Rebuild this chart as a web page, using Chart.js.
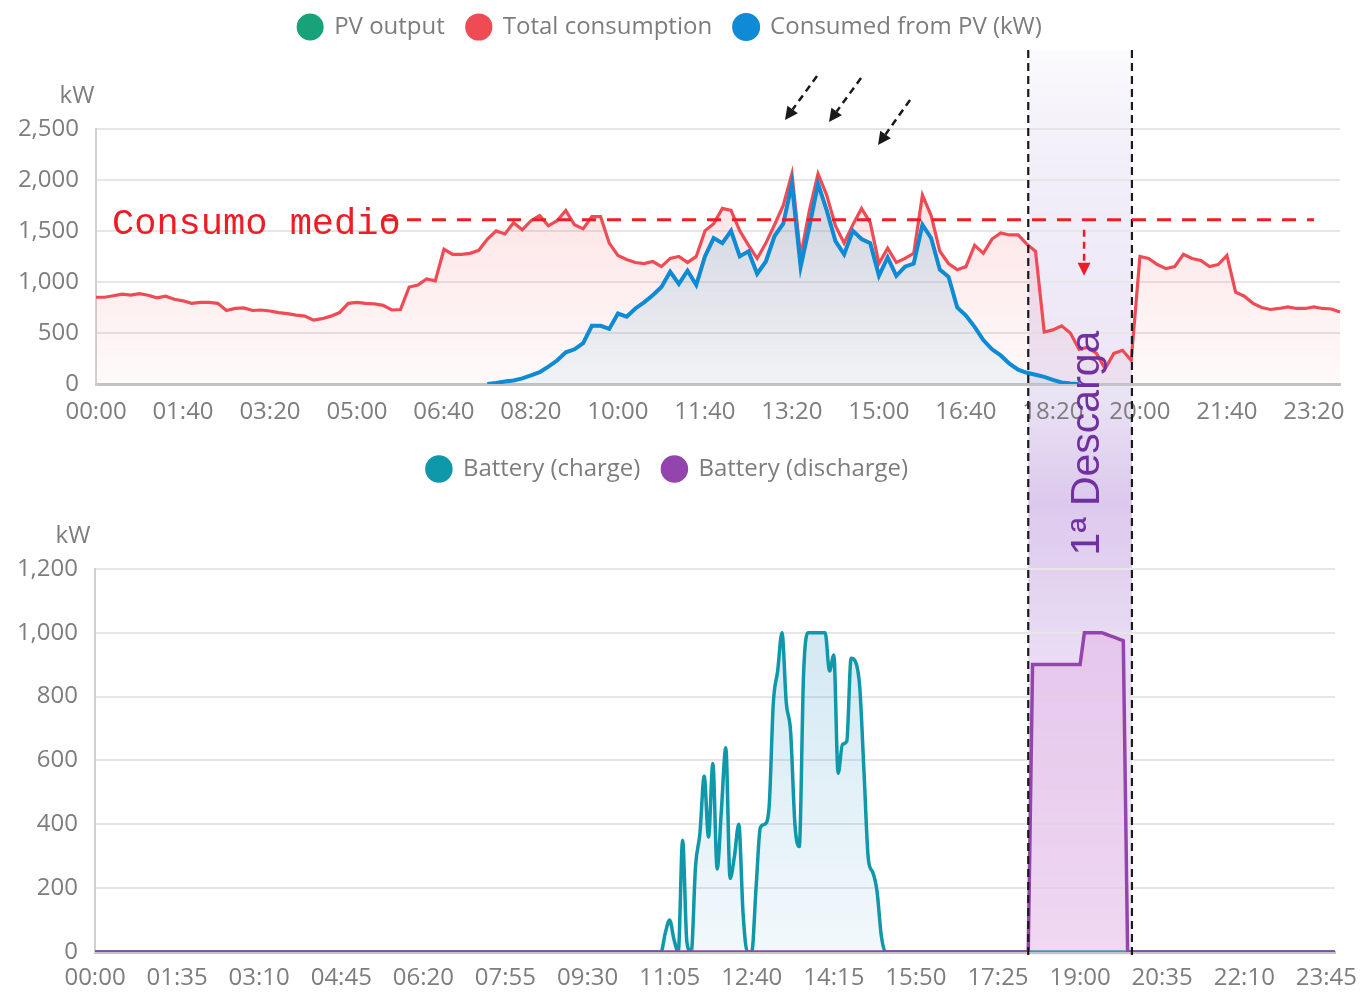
<!DOCTYPE html>
<html>
<head>
<meta charset="utf-8">
<script src="https://cdn.jsdelivr.net/npm/chart.js@4.4.1/dist/chart.umd.min.js"></script>
<style>
    html, body { margin: 0; padding: 0; background: #fff; }
    #stage { position: relative; width: 1363px; height: 992px; overflow: hidden; }
    #stage canvas { position: absolute; left: 0; }
    #band { top: 0; z-index: 0; }
    #topChart { top: 0; z-index: 1; }
    #bottomChart { top: 440px; z-index: 1; }
    #notes { top: 0; z-index: 2; pointer-events: none; }
</style>
</head>
<body>
<div id="stage">
    <canvas id="band" width="1363" height="992"></canvas>
    <canvas id="topChart" width="1363" height="440"></canvas>
    <canvas id="bottomChart" width="1363" height="552"></canvas>
    <canvas id="notes" width="1363" height="992"></canvas>
</div>
<script>
// ---- data ----
const topTimes = makeTimes(10);     // 00:00 .. 23:50
const bottomTimes = makeTimes(5);   // 00:00 .. 23:55
const topTickEvery = 10;            // 00:00, 01:40, 03:20 ...
const bottomTickEvery = 19;         // 00:00, 01:35, 03:10 ...

// kW, one value every 10 min
const totalConsumption = [
    850, 850, 865, 880, 870, 885, 870, 845, 860, 830,
    815, 790, 800, 800, 790, 720, 740, 745, 720, 725,
    715, 700, 690, 675, 665, 625, 640, 665, 700, 790,
    800, 790, 785, 770, 725, 730, 950, 970, 1030, 1010,
    1320, 1270, 1270, 1280, 1310, 1420, 1500, 1470, 1580, 1510,
    1600, 1650, 1550, 1600, 1700, 1560, 1520, 1640, 1640, 1380,
    1260, 1220, 1190, 1180, 1200, 1150, 1230, 1250, 1190, 1250,
    1500, 1570, 1720, 1700, 1500, 1360, 1230, 1380, 1560, 1750,
    2060, 1250, 1700, 2060, 1850, 1550, 1380, 1560, 1720, 1580,
    1180, 1330, 1190, 1230, 1280, 1850, 1650, 1300, 1180, 1120,
    1150, 1360, 1280, 1420, 1480, 1460, 1460, 1370, 1300, 510,
    530, 570, 500, 340, 360, 300, 150, 300, 330, 230,
    1250, 1230, 1170, 1130, 1150, 1270, 1230, 1210, 1150, 1170,
    1260, 900, 860, 790, 750, 730, 740, 755, 740, 740,
    755, 740, 735, 705
];

const consumedFromPV = [
    null, null, null, null, null, null, null, null, null, null,
    null, null, null, null, null, null, null, null, null, null,
    null, null, null, null, null, null, null, null, null, null,
    null, null, null, null, null, null, null, null, null, null,
    null, null, null, null, null, 0, 10, 25, 35, 55,
    85, 115, 170, 230, 310, 340, 400, 570, 570, 540,
    690, 660, 740, 800, 870, 950, 1100, 980, 1110, 970,
    1250, 1430, 1380, 1500, 1250, 1300, 1080, 1200, 1450, 1570,
    1960, 1150, 1540, 1960, 1700, 1400, 1270, 1500, 1420, 1380,
    1060, 1240, 1060, 1150, 1180, 1560, 1430, 1120, 1050, 750,
    670, 560, 430, 340, 280, 200, 140, 110, 90, 70,
    40, 15, 5, 0, null, null, null, null, null, null,
    null, null, null, null, null, null, null, null, null, null,
    null, null, null, null, null, null, null, null, null, null,
    null, null, null, null
];

// PV output sits right under the blue line in the picture
const pvOutput = [
    null, null, null, null, null, null, null, null, null, null,
    null, null, null, null, null, null, null, null, null, null,
    null, null, null, null, null, null, null, null, null, null,
    null, null, null, null, null, null, null, null, null, null,
    null, null, null, null, null, 0, 10, 25, 35, 55,
    85, 115, 170, 230, 310, 340, 400, 570, 570, 540,
    690, 660, 740, 800, 870, 950, 1100, 980, 1110, 970,
    1250, 1430, 1380, 1500, 1250, 1300, 1080, 1200, 1450, 1570,
    1960, 1150, 1540, 1960, 1700, 1400, 1270, 1500, 1420, 1380,
    1060, 1240, 1060, 1150, 1180, 1560, 1430, 1120, 1050, 750,
    670, 560, 430, 340, 280, 200, 140, 110, 90, 70,
    40, 15, 5, 0, null, null, null, null, null, null,
    null, null, null, null, null, null, null, null, null, null,
    null, null, null, null, null, null, null, null, null, null,
    null, null, null, null
];

// kW, one value every 5 min, one row per hour
const batteryCharge = [
    0, 0, 0, 0, 0, 0, 0, 0, 0, 0, 0, 0,
    0, 0, 0, 0, 0, 0, 0, 0, 0, 0, 0, 0,
    0, 0, 0, 0, 0, 0, 0, 0, 0, 0, 0, 0,
    0, 0, 0, 0, 0, 0, 0, 0, 0, 0, 0, 0,
    0, 0, 0, 0, 0, 0, 0, 0, 0, 0, 0, 0,
    0, 0, 0, 0, 0, 0, 0, 0, 0, 0, 0, 0,
    0, 0, 0, 0, 0, 0, 0, 0, 0, 0, 0, 0,
    0, 0, 0, 0, 0, 0, 0, 0, 0, 0, 0, 0,
    0, 0, 0, 0, 0, 0, 0, 0, 0, 0, 0, 0,
    0, 0, 0, 0, 0, 0, 0, 0, 0, 0, 0, 0,
    0, 0, 0, 0, 0, 0, 0, 0, 0, 0, 0, 0,
    60, 100, 40, 0, 350, 30, 0, 270, 370, 550, 360, 590,
    260, 450, 640, 230, 300, 400, 120, 0, 0, 200, 390, 400,
    450, 780, 880, 1000, 780, 690, 400, 330, 870, 1000, 1000, 1000,
    1000, 1000, 880, 930, 560, 650, 660, 920, 910, 830, 560, 290,
    250, 190, 50, 0, 0, 0, 0, 0, 0, 0, 0, 0,
    0, 0, 0, 0, 0, 0, 0, 0, 0, 0, 0, 0,
    0, 0, 0, 0, 0, 0, 0, 0, 0, 0, 0, 0,
    0, 0, 0, 0, 0, 0, 0, 0, 0, 0, 0, 0,
    0, 0, 0, 0, 0, 0, 0, 0, 0, 0, 0, 0,
    0, 0, 0, 0, 0, 0, 0, 0, 0, 0, 0, 0,
    0, 0, 0, 0, 0, 0, 0, 0, 0, 0, 0, 0,
    0, 0, 0, 0, 0, 0, 0, 0, 0, 0, 0, 0,
    0, 0, 0, 0, 0, 0, 0, 0, 0, 0, 0, 0
];

const batteryDischarge = [
    0, 0, 0, 0, 0, 0, 0, 0, 0, 0, 0, 0,
    0, 0, 0, 0, 0, 0, 0, 0, 0, 0, 0, 0,
    0, 0, 0, 0, 0, 0, 0, 0, 0, 0, 0, 0,
    0, 0, 0, 0, 0, 0, 0, 0, 0, 0, 0, 0,
    0, 0, 0, 0, 0, 0, 0, 0, 0, 0, 0, 0,
    0, 0, 0, 0, 0, 0, 0, 0, 0, 0, 0, 0,
    0, 0, 0, 0, 0, 0, 0, 0, 0, 0, 0, 0,
    0, 0, 0, 0, 0, 0, 0, 0, 0, 0, 0, 0,
    0, 0, 0, 0, 0, 0, 0, 0, 0, 0, 0, 0,
    0, 0, 0, 0, 0, 0, 0, 0, 0, 0, 0, 0,
    0, 0, 0, 0, 0, 0, 0, 0, 0, 0, 0, 0,
    0, 0, 0, 0, 0, 0, 0, 0, 0, 0, 0, 0,
    0, 0, 0, 0, 0, 0, 0, 0, 0, 0, 0, 0,
    0, 0, 0, 0, 0, 0, 0, 0, 0, 0, 0, 0,
    0, 0, 0, 0, 0, 0, 0, 0, 0, 0, 0, 0,
    0, 0, 0, 0, 0, 0, 0, 0, 0, 0, 0, 0,
    0, 0, 0, 0, 0, 0, 0, 0, 0, 0, 0, 0,
    0, 0, 0, 0, 0, 0, 0, 0, 0, 0, 0, 0,
    0, 900, 900, 900, 900, 900, 900, 900, 900, 900, 900, 900,
    900, 1000, 1000, 1000, 1000, 1000, 995, 990, 985, 980, 975, 0,
    0, 0, 0, 0, 0, 0, 0, 0, 0, 0, 0, 0,
    0, 0, 0, 0, 0, 0, 0, 0, 0, 0, 0, 0,
    0, 0, 0, 0, 0, 0, 0, 0, 0, 0, 0, 0,
    0, 0, 0, 0, 0, 0, 0, 0, 0, 0, 0, 0
];

// annotations
const avgConsumption = 1610;         // "Consumo medio" line
const dischargeStart = '18:00';
const dischargeEnd = '20:00';

const FONT = '"Open Sans", "Noto Sans", sans-serif';
const TICK = '#7d7d7d';

function makeTimes(step) {
    const out = [];
    for (let m = 0; m < 1440; m += step) {
        out.push(String(Math.floor(m / 60)).padStart(2, '0') + ':' + String(m % 60).padStart(2, '0'));
    }
    return out;
}

// vertical fade for the area fills
function fadeFill(rgb, a1, a2) {
    return ctx => {
        const chart = ctx.chart;
        const area = chart.chartArea;
        if (!area) return `rgba(${rgb},${a2})`;
        const g = chart.ctx.createLinearGradient(0, area.top, 0, area.bottom);
        g.addColorStop(0, `rgba(${rgb},${a1})`);
        g.addColorStop(1, `rgba(${rgb},${a2})`);
        return g;
    };
}

// "kW" above the y axis
const unitLabel = {
    id: 'unitLabel',
    afterDraw(chart, args, opts) {
        const { ctx, chartArea } = chart;
        ctx.save();
        ctx.font = `24px ${FONT}`;
        ctx.fillStyle = TICK;
        ctx.textAlign = 'center';
        ctx.textBaseline = 'middle';
        ctx.fillText(opts.text, chartArea.left + opts.dx, chartArea.top - 33);
        ctx.restore();
    }
};

function chartOptions(cfg) {
    return {
        responsive: false,
        animation: false,
        locale: 'en-US',
        layout: { padding: { top: cfg.padTop, left: 0, right: cfg.padRight, bottom: 0 } },
        plugins: {
            legend: {
                position: 'top',
                labels: {
                    usePointStyle: true,
                    pointStyle: 'circle',
                    pointStyleWidth: 24,
                    boxHeight: 17,
                    padding: 22,
                    color: TICK,
                    font: { family: FONT, size: 24 },
                    sort: (a, b) => a.datasetIndex - b.datasetIndex
                }
            },
            // only used as a spacer between legend and plot
            title: {
                display: true, text: 'kW', color: 'rgba(0,0,0,0)', weight: 500,
                padding: { top: 0, bottom: cfg.titleGap }, font: { family: FONT, size: 24 }
            },
            tooltip: { enabled: false },
            unitLabel: { text: 'kW', dx: cfg.kwDx }
        },
        scales: {
            x: {
                grid: { display: false, drawTicks: false },
                border: { display: true, color: '#c4c4c4', width: 3 },
                ticks: {
                    autoSkip: false, maxRotation: 0, minRotation: 0, padding: cfg.xPad,
                    color: TICK, font: { family: FONT, size: 24 },
                    callback(value, index) {
                        return index % cfg.tickEvery === 0 ? this.getLabelForValue(value) : null;
                    }
                },
                afterFit: s => {
                    s.height = cfg.xHeight;
                    s.paddingLeft = 0;
                    s.paddingRight = 0;
                }
            },
            y: {
                min: 0, max: cfg.yMax,
                grid: { color: '#e6e6e6', lineWidth: 2, drawTicks: false },
                border: { display: true, color: '#d0d0d0', width: 2 },
                ticks: { stepSize: cfg.yStep, padding: 17, color: TICK, font: { family: FONT, size: 24 } },
                afterFit: s => { s.width = cfg.yWidth; }
            }
        }
    };
}

const topChart = new Chart(document.getElementById('topChart'), {
    type: 'line',
    data: {
        labels: topTimes,
        datasets: [
            {
                label: 'PV output', data: pvOutput, order: 1,
                borderColor: '#17a27a', borderWidth: 3, pointRadius: 0,
                pointBackgroundColor: '#17a27a', pointBorderColor: '#17a27a',
                fill: false, spanGaps: false
            },
            {
                label: 'Total consumption', data: totalConsumption, order: 2,
                borderColor: '#ee4b55', borderWidth: 3.2, pointRadius: 0,
                pointBackgroundColor: '#ee4b55', pointBorderColor: '#ee4b55',
                fill: 'origin', backgroundColor: fadeFill('239,80,90', 0.2, 0.03)
            },
            {
                label: 'Consumed from PV (kW)', data: consumedFromPV, order: 0,
                borderColor: '#0f8bd6', borderWidth: 4, pointRadius: 0,
                pointBackgroundColor: '#0f8bd6', pointBorderColor: '#0f8bd6',
                fill: 'origin', backgroundColor: fadeFill('120,185,215', 0.4, 0.1)
            }
        ]
    },
    options: chartOptions({
        padTop: -7, titleGap: 51, padRight: 23, yWidth: 96, xHeight: 56, xPad: 14,
        kwDx: -19, yMax: 2500, yStep: 500, tickEvery: topTickEvery
    }),
    plugins: [unitLabel]
});

const bottomChart = new Chart(document.getElementById('bottomChart'), {
    type: 'line',
    data: {
        labels: bottomTimes,
        datasets: [
            {
                label: 'Battery (charge)', data: batteryCharge, order: 1,
                borderColor: '#0e98a9', borderWidth: 3.5, pointRadius: 0,
                pointBackgroundColor: '#0e98a9', pointBorderColor: '#0e98a9',
                cubicInterpolationMode: 'monotone',
                fill: 'origin', backgroundColor: fadeFill('90,170,210', 0.3, 0.08)
            },
            {
                label: 'Battery (discharge)', data: batteryDischarge, order: 0,
                borderColor: '#9445ad', borderWidth: 3.5, pointRadius: 0,
                pointBackgroundColor: '#9445ad', pointBorderColor: '#9445ad',
                fill: 'origin', backgroundColor: fadeFill('225,150,220', 0.3, 0.25)
            }
        ]
    },
    options: chartOptions({
        padTop: -5, titleGap: 49, padRight: 28, yWidth: 95, xHeight: 40, xPad: 12,
        kwDx: -22, yMax: 1200, yStep: 200, tickEvery: bottomTickEvery
    }),
    plugins: [unitLabel]
});

// ---- hand-drawn annotations over both charts ----
function dashedArrow(c, x0, y0, x1, y1, color, head, dash) {
    const ang = Math.atan2(y1 - y0, x1 - x0);
    const bx = x1 - Math.cos(ang) * head, by = y1 - Math.sin(ang) * head;
    c.strokeStyle = color;
    c.lineWidth = 2.5;
    c.setLineDash(dash);
    c.beginPath();
    c.moveTo(x0, y0);
    c.lineTo(bx, by);
    c.stroke();
    c.setLineDash([]);
    c.fillStyle = color;
    c.beginPath();
    c.moveTo(x1, y1);
    c.lineTo(bx + Math.sin(ang) * head * 0.5, by - Math.cos(ang) * head * 0.5);
    c.lineTo(bx - Math.sin(ang) * head * 0.5, by + Math.cos(ang) * head * 0.5);
    c.closePath();
    c.fill();
}

function drawNotes() {
    const bx = bottomChart.scales.x;
    const ty = topChart.scales.y;
    const x1 = bx.getPixelForValue(bottomTimes.indexOf(dischargeStart));
    const x2 = bx.getPixelForValue(bottomTimes.indexOf(dischargeEnd));
    const mid = (x1 + x2) / 2 + 4;

    // shaded discharge window, behind the charts
    const b = document.getElementById('band').getContext('2d');
    const g = b.createLinearGradient(0, 50, 0, 955);
    g.addColorStop(0, 'rgba(140,110,200,0.04)');
    g.addColorStop(0.12, 'rgba(140,110,200,0.11)');
    g.addColorStop(0.37, 'rgba(140,100,200,0.17)');
    g.addColorStop(0.5, 'rgba(150,90,200,0.33)');
    g.addColorStop(0.65, 'rgba(150,90,200,0.22)');
    g.addColorStop(1, 'rgba(150,90,200,0.10)');
    b.fillStyle = g;
    b.fillRect(x1, 50, x2 - x1, 905);

    const c = document.getElementById('notes').getContext('2d');

    // window borders
    c.strokeStyle = '#1a1a1a';
    c.lineWidth = 2.2;
    c.setLineDash([8, 5]);
    [x1, x2].forEach(x => {
        c.beginPath();
        c.moveTo(x, 50);
        c.lineTo(x, 957);
        c.stroke();
    });

    // average consumption line + label
    const yAvg = ty.getPixelForValue(avgConsumption);
    c.strokeStyle = '#ee1c24';
    c.lineWidth = 3;
    c.setLineDash([14, 11]);
    c.beginPath();
    c.moveTo(382, yAvg);
    c.lineTo(1314, yAvg);
    c.stroke();
    c.setLineDash([]);
    c.fillStyle = '#ee1c24';
    c.font = '37px "Liberation Mono", "DejaVu Sans Mono", monospace';
    c.textAlign = 'left';
    c.textBaseline = 'alphabetic';
    c.fillText('Consumo medio', 112, yAvg + 14);

    // drop below the average
    dashedArrow(c, mid, yAvg + 10, mid, yAvg + 56, '#ee1c24', 13, [7, 5]);

    // arrows at the midday peaks
    dashedArrow(c, 817, 76, 785, 120, '#1a1a1a', 13, [7, 5]);
    dashedArrow(c, 861, 78, 829, 122, '#1a1a1a', 13, [7, 5]);
    dashedArrow(c, 910, 100, 878, 145, '#1a1a1a', 13, [7, 5]);

    // window caption
    c.save();
    c.translate(x2 - 33, 443);
    c.rotate(-Math.PI / 2);
    c.fillStyle = '#7030a0';
    c.font = '41px "Liberation Sans", Arial, sans-serif';
    c.textAlign = 'center';
    c.textBaseline = 'alphabetic';
    c.fillText('1ª Descarga', 0, 0);
    c.restore();
}

drawNotes();
</script>
</body>
</html>
